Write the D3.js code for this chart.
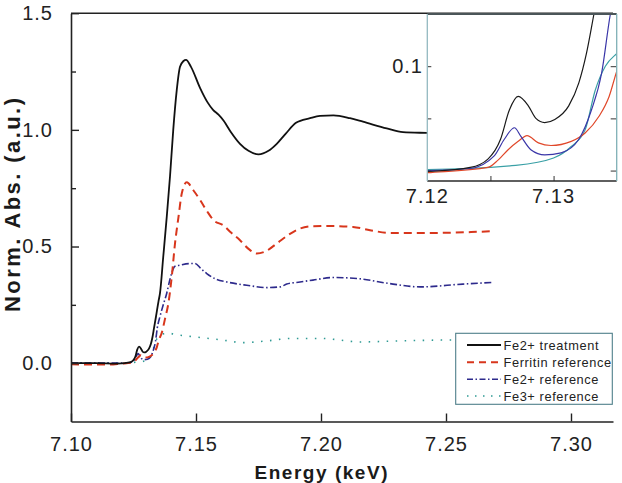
<!DOCTYPE html>
<html>
<head>
<meta charset="utf-8">
<script src="https://cdn.jsdelivr.net/npm/d3@7"></script>
<style>
  html, body { margin: 0; padding: 0; background: #fff; }
  svg { display: block; font-family: "Liberation Sans", Arial, Helvetica, sans-serif; }
</style>
</head>
<body>
<script>
// ---------- DATA (energy keV, normalized absorbance) ----------
const fe2Treatment = [
  [7.100,0.000],[7.110,0.000],[7.118,-0.002],[7.120,-0.001],[7.1234,0.003],[7.1248,0.011],
  [7.1258,0.030],[7.1265,0.058],[7.1272,0.071],[7.1280,0.062],[7.1286,0.050],[7.1293,0.046],
  [7.1301,0.049],[7.1312,0.062],[7.1320,0.084],[7.1326,0.112],[7.1332,0.150],[7.1340,0.200],
  [7.1350,0.265],[7.1356,0.300],[7.1369,0.456],[7.1383,0.627],[7.1396,0.800],[7.1409,1.000],
  [7.1423,1.170],[7.1436,1.270],[7.1450,1.295],[7.1460,1.300],[7.1480,1.270],[7.1516,1.180],
  [7.1545,1.120],[7.1569,1.085],[7.1590,1.065],[7.1610,1.040],[7.1640,0.990],[7.1676,0.940],
  [7.1710,0.910],[7.1750,0.895],[7.1790,0.910],[7.1823,0.940],[7.1860,0.985],[7.1900,1.030],
  [7.1956,1.050],[7.1996,1.060],[7.2050,1.062],[7.2116,1.050],[7.2168,1.035],[7.2263,1.006],
  [7.2328,0.990],[7.2423,0.987],[7.2500,0.985],[7.2600,0.985],[7.2700,0.985]
];
const ferritinRef = [
  [7.100,-0.005],[7.115,-0.006],[7.120,-0.002],[7.1248,0.003],[7.1256,0.010],[7.1264,0.020],
  [7.1272,0.028],[7.1279,0.0335],[7.1288,0.0265],[7.1298,0.024],[7.1314,0.028],[7.1325,0.036],
  [7.1336,0.052],[7.1344,0.071],[7.1350,0.095],[7.1363,0.130],[7.1376,0.190],[7.1390,0.260],
  [7.1403,0.370],[7.1416,0.513],[7.1430,0.627],[7.1443,0.727],[7.1463,0.775],[7.1490,0.740],
  [7.1516,0.700],[7.1545,0.650],[7.1570,0.613],[7.1610,0.590],[7.1640,0.560],[7.1676,0.527],
  [7.1710,0.490],[7.1743,0.470],[7.1780,0.480],[7.1823,0.513],[7.1870,0.550],[7.1916,0.577],
  [7.1968,0.587],[7.2036,0.588],[7.2128,0.584],[7.2196,0.570],[7.2276,0.558],[7.2436,0.558],
  [7.2600,0.562],[7.2690,0.566]
];
const fe2Ref = [
  [7.100,0.000],[7.120,0.000],[7.1234,0.002],[7.1253,0.014],[7.1261,0.030],[7.1269,0.041],
  [7.1274,0.033],[7.1282,0.020],[7.1293,0.015],[7.1306,0.017],[7.1320,0.030],[7.1330,0.058],
  [7.1338,0.093],[7.1345,0.150],[7.1356,0.200],[7.1369,0.250],[7.1383,0.300],[7.1396,0.360],
  [7.1416,0.415],[7.1436,0.420],[7.1476,0.427],[7.1496,0.427],[7.1520,0.405],[7.1543,0.384],
  [7.1580,0.360],[7.1623,0.348],[7.1703,0.334],[7.1783,0.324],[7.1836,0.327],[7.1863,0.339],
  [7.1916,0.348],[7.1968,0.356],[7.2048,0.367],[7.2143,0.363],[7.2276,0.341],[7.2396,0.327],
  [7.2568,0.339],[7.2690,0.346]
];
const fe3Ref = [
  [7.100,0.000],[7.120,0.001],[7.127,0.005],[7.1300,0.012],[7.1314,0.023],[7.1325,0.039],
  [7.1333,0.077],[7.1341,0.100],[7.1350,0.112],[7.1365,0.125],[7.1390,0.128],[7.1423,0.122],
  [7.1500,0.112],[7.1600,0.100],[7.1690,0.088],[7.1780,0.095],[7.1880,0.106],[7.2000,0.106],
  [7.2160,0.091],[7.2300,0.095],[7.2480,0.099],[7.2700,0.100]
];
const seriesNames = ["Fe2+ treatment", "Ferritin reference", "Fe2+ reference", "Fe3+ reference"];
const xTicks = [7.10, 7.15, 7.20, 7.25, 7.30];
const yTicks = [0.0, 0.5, 1.0, 1.5];
const yMinorTicks = [0.25, 0.75, 1.25];
const insetXLabels = [7.12, 7.13];
const insetXTicks = [7.125, 7.13];
const insetYTicks = [0, 0.05, 0.1];
const insetYLabels = [0.1];

// ---------- STYLES ----------
const series = [
  {name: seriesNames[0], data: fe2Treatment, color: "#111111", inset: "#1a1a1a", width: 1.8, dash: null, legendDash: null},
  {name: seriesNames[1], data: ferritinRef,  color: "#d8361c", inset: "#e0482a", width: 2.0, dash: "8,5", legendDash: "7,5"},
  {name: seriesNames[2], data: fe2Ref,       color: "#2d2a8c", inset: "#3a36a8", width: 1.6, dash: "7,2.5,1.5,2.5", legendDash: "6,2.5,1.5,2.5"},
  {name: seriesNames[3], data: fe3Ref,       color: "#2f9a94", inset: "#3aa0a6", width: 1.6, dash: "1.5,7.5", legendDash: "1.5,6.5"}
];

const W = 622, H = 483;
const svg = d3.select("body").append("svg").attr("width", W).attr("height", H);

const x = d3.scaleLinear().domain([7.10, 7.3168]).range([71, 613]);
const y = d3.scaleLinear().domain([-0.25, 1.5]).range([421.5, 13.2]);

// ---------- MAIN CURVES ----------
const line = d3.line().x(d => x(d[0])).y(d => y(d[1])).curve(d3.curveMonotoneX);
series.slice().reverse().forEach(s => {
  svg.append("path").datum(s.data)
    .attr("d", line).attr("fill", "none")
    .attr("stroke", s.color).attr("stroke-width", s.width)
    .attr("stroke-dasharray", s.dash)
    .attr("stroke-linejoin", "round");
});

// ---------- AXES ----------
const axisColor = "#222";
const xAxis = svg.append("g").attr("transform", `translate(0,${y.range()[0]})`)
  .call(d3.axisBottom(x).tickValues(xTicks).tickFormat(d3.format(".2f"))
        .tickSize(-8).tickSizeOuter(0).tickPadding(15));
const yAxis = svg.append("g").attr("transform", `translate(${x.range()[0]},0)`)
  .call(d3.axisLeft(y).tickValues(yTicks).tickFormat(d3.format(".1f"))
        .tickSize(-8).tickSizeOuter(0).tickPadding(18));
const yMinor = svg.append("g").attr("transform", `translate(${x.range()[0]},0)`)
  .call(d3.axisLeft(y).tickValues(yMinorTicks).tickFormat("").tickSize(-5).tickSizeOuter(0));
yMinor.select(".domain").remove();
[xAxis, yAxis, yMinor].forEach(g => {
  g.select(".domain").attr("stroke", axisColor).attr("stroke-width", 1.6);
  g.selectAll(".tick line").attr("stroke", axisColor).attr("stroke-width", 1.4);
  g.selectAll(".tick text").attr("fill", "#222").style("font-size", "20px")
    .style("letter-spacing", "1px").style("font-family", "'Liberation Sans', Arial, sans-serif");
});
svg.append("line").attr("x1", x.range()[0]).attr("x2", x.range()[1])
  .attr("y1", y.range()[1]).attr("y2", y.range()[1])
  .attr("stroke", axisColor).attr("stroke-width", 1.4);

// axis titles
svg.append("text").attr("x", x(7.20)).attr("y", 479)
  .attr("text-anchor", "middle").attr("font-weight", "bold").attr("font-size", 19)
  .attr("textLength", 133).attr("lengthAdjust", "spacing").attr("fill", "#1a1a1a")
  .text("Energy (keV)");
svg.append("text").attr("transform", "translate(20,205) rotate(-90)")
  .attr("text-anchor", "middle").attr("font-weight", "bold").attr("font-size", 22)
  .attr("textLength", 214).attr("lengthAdjust", "spacing").attr("fill", "#1a1a1a")
  .text("Norm. Abs. (a.u.)");

// ---------- LEGEND ----------
const lg = svg.append("g");
lg.append("rect").attr("x", 455.7).attr("y", 333.3).attr("width", 156.6).attr("height", 71)
  .attr("fill", "#fff").attr("stroke", "#4f7f8a").attr("stroke-width", 1.1);
const rowY = [345, 362.3, 379.3, 396];
series.forEach((s, i) => {
  lg.append("line").attr("x1", 467).attr("x2", 501).attr("y1", rowY[i]).attr("y2", rowY[i])
    .attr("stroke", s.color).attr("stroke-width", s.width).attr("stroke-dasharray", s.legendDash);
  lg.append("text").attr("x", 503.5).attr("y", rowY[i]).attr("dy", "0.36em")
    .attr("font-size", 12.8).style("letter-spacing", "0.6px").attr("fill", "#222").text(s.name);
});

// ---------- INSET ----------
const xi = d3.scaleLinear().domain([7.12, 7.135]).range([427.3, 616.7]);
const yi = d3.scaleLinear().domain([-0.01, 0.15]).range([181, 14]);
const ig = svg.append("g");
ig.append("rect").attr("x", xi.range()[0]).attr("y", yi.range()[1])
  .attr("width", xi.range()[1] - xi.range()[0]).attr("height", yi.range()[0] - yi.range()[1])
  .attr("fill", "#fff");
svg.append("clipPath").attr("id", "insetClip").append("rect")
  .attr("x", xi.range()[0]).attr("y", yi.range()[1])
  .attr("width", xi.range()[1] - xi.range()[0]).attr("height", yi.range()[0] - yi.range()[1]);
const lineI = d3.line().x(d => xi(d[0])).y(d => yi(d[1])).curve(d3.curveMonotoneX);
const ic = ig.append("g").attr("clip-path", "url(#insetClip)");
[3, 1, 2, 0].forEach(k => {
  const s = series[k];
  ic.append("path").datum(s.data).attr("d", lineI).attr("fill", "none")
    .attr("stroke", s.inset).attr("stroke-width", 1.2).attr("stroke-linejoin", "round");
});
const ib = ig.append("g").attr("transform", `translate(0,${yi.range()[0]})`)
  .call(d3.axisBottom(xi).tickValues(insetXTicks).tickFormat("").tickSize(-5).tickSizeOuter(0));
const il = ig.append("g").attr("transform", `translate(${xi.range()[0]},0)`)
  .call(d3.axisRight(yi).tickValues(insetYTicks).tickFormat("").tickSize(4).tickSizeOuter(0));
const ir = ig.append("g").attr("transform", `translate(${xi.range()[1]},0)`)
  .call(d3.axisLeft(yi).tickValues(insetYTicks).tickFormat("").tickSize(6).tickSizeOuter(0));
[ib, il, ir].forEach(g => {
  g.select(".domain").remove();
  g.selectAll(".tick line").attr("stroke", "#333").attr("stroke-width", 1);
});
const [ix0, ix1] = xi.range(), iy0 = yi.range()[1], iy1 = yi.range()[0];
ig.append("line").attr("x1", ix0).attr("x2", ix1).attr("y1", iy0).attr("y2", iy0).attr("stroke", "#4a5558").attr("stroke-width", 2);
ig.append("line").attr("x1", ix0).attr("x2", ix1).attr("y1", iy1).attr("y2", iy1).attr("stroke", "#2a2a2a").attr("stroke-width", 1.5);
ig.append("line").attr("x1", ix0).attr("x2", ix0).attr("y1", iy0).attr("y2", iy1).attr("stroke", "#93b9c0").attr("stroke-width", 1.3);
ig.append("line").attr("x1", ix1).attr("x2", ix1).attr("y1", iy0).attr("y2", iy1).attr("stroke", "#7fb0b6").attr("stroke-width", 1.3);
insetXLabels.forEach(v => {
  ig.append("text").attr("x", xi(v)).attr("y", 203).attr("text-anchor", "middle")
    .attr("font-size", 20).style("letter-spacing", "1px").attr("fill", "#222").text(d3.format(".2f")(v));
});
insetYLabels.forEach(v => {
  ig.append("text").attr("x", 423).attr("y", yi(v)).attr("dy", "0.34em").attr("text-anchor", "end")
    .attr("font-size", 20).style("letter-spacing", "1px").attr("fill", "#222").text(d3.format(".1f")(v));
});
</script>
</body>
</html>
